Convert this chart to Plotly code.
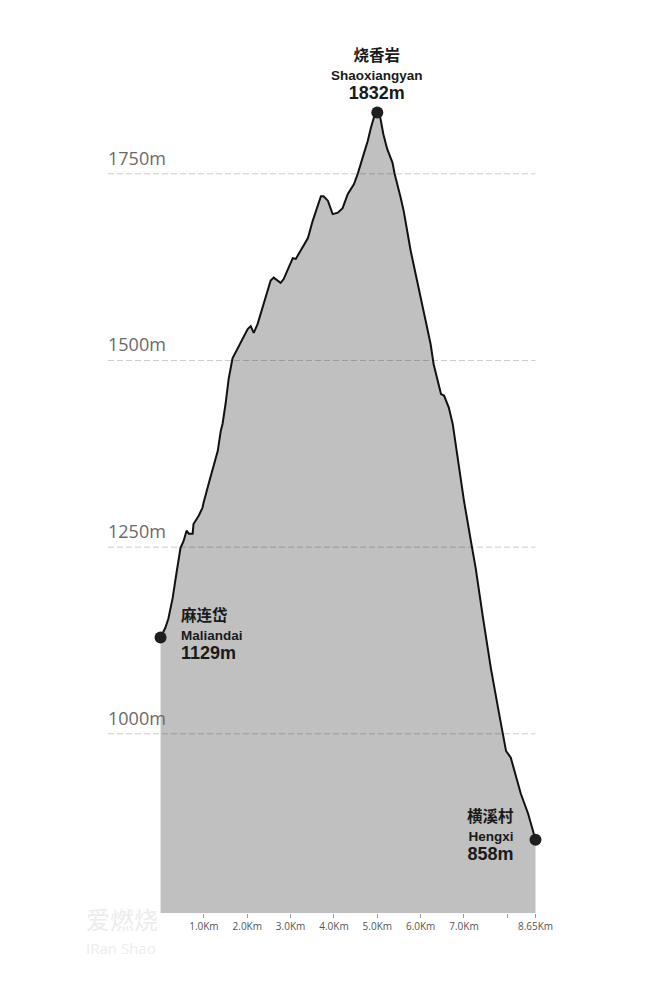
import plotly.graph_objects as go

# ---- data -------------------------------------------------------------
distance_km = [0.00, 0.11, 0.18, 0.28, 0.35, 0.46, 0.53, 0.60, 0.65, 0.74,
               0.76, 0.88, 0.97, 0.99, 1.11, 1.20, 1.22, 1.32, 1.39, 1.43,
               1.50, 1.57, 1.66, 1.78, 1.89, 2.01, 2.08, 2.15, 2.24, 2.31,
               2.42, 2.54, 2.61, 2.70, 2.77, 2.84, 2.96, 3.05, 3.12, 3.23,
               3.40, 3.51, 3.63, 3.70, 3.76, 3.86, 3.97, 4.09, 4.20, 4.32,
               4.46, 4.55, 4.69, 4.78, 4.85, 4.92, 5.00, 5.07, 5.14, 5.23,
               5.35, 5.40, 5.54, 5.61, 5.77, 5.93, 6.07, 6.23, 6.30, 6.42,
               6.47, 6.54, 6.65, 6.74, 6.81, 6.86, 7.00, 7.16, 7.27, 7.44,
               7.62, 7.81, 7.97, 8.08, 8.20, 8.31, 8.48, 8.65]
elevation_m = [1129, 1142, 1154, 1182, 1209, 1249, 1258, 1272, 1268, 1268,
               1281, 1292, 1303, 1309, 1335, 1355, 1356, 1379, 1406, 1415,
               1442, 1475, 1503, 1517, 1530, 1542, 1546, 1537, 1549, 1562,
               1584, 1607, 1611, 1607, 1604, 1609, 1624, 1637, 1636, 1647,
               1664, 1687, 1710, 1720, 1720, 1714, 1696, 1698, 1704, 1723,
               1736, 1750, 1777, 1794, 1811, 1825, 1832, 1825, 1803, 1783,
               1765, 1750, 1718, 1700, 1647, 1603, 1566, 1522, 1495, 1469,
               1455, 1453, 1437, 1415, 1388, 1370, 1312, 1258, 1222, 1155,
               1088, 1027, 977, 968, 941, 920, 893, 858]

base_elev = 760
grid_levels = [1000, 1250, 1500, 1750]
grid_labels = ["1000m", "1250m", "1500m", "1750m"]

x_tick_vals = [1, 2, 3, 4, 5, 6, 7, 8, 8.65]
x_tick_text = ["1.0Km", "2.0Km", "3.0Km", "4.0Km", "5.0Km", "6.0Km", "7.0Km", "", "8.65Km"]

point_km = [0.0, 5.0, 8.65]
point_elev = [1129, 1832, 858]
point_cn = ["麻连岱", "烧香岩", "横溪村"]
point_en = ["Maliandai", "Shaoxiangyan", "Hengxi"]

# ---- figure -----------------------------------------------------------
CJK = "Noto Sans CJK SC"
LAT = "Open Sans"
LAB = "Liberation Sans"

fig = go.Figure()

fig.add_trace(go.Scatter(
    x=distance_km, y=elevation_m, mode="lines",
    line=dict(color="#111111", width=2),
    fill="tozeroy", fillcolor="#c0c0c0",
    hoverinfo="skip", showlegend=False))

fig.add_trace(go.Scatter(
    x=point_km, y=point_elev, mode="markers",
    marker=dict(color="#1e1e1e", size=12),
    cliponaxis=False, hoverinfo="skip", showlegend=False))

x0_range = -1.2125
shapes = []
annotations = []
for lvl, lab in zip(grid_levels, grid_labels):
    shapes.append(dict(type="line", xref="x", yref="y", layer="above",
                       x0=x0_range, x1=8.65, y0=lvl, y1=lvl,
                       line=dict(color="rgba(0,0,0,0.2)", width=1, dash="6px,3px")))
    annotations.append(dict(text=lab, xref="paper", yref="y", x=0, y=lvl,
                            xanchor="left", yanchor="middle", yshift=16, xshift=-2,
                            showarrow=False,
                            font=dict(family=LAT, size=18, color="#6a6a6a")))

# point labels: (xshift, xanchor/align, yshift)
label_layout = [(18, "left", 4), (0, "center", 40), (-20, "right", 6)]
for km, ev, cn, en, (xs, xa, ys) in zip(point_km, point_elev, point_cn, point_en, label_layout):
    txt = ("<b><span style='font-size:15.5px;font-family:%s'>%s</span></b><br>"
           "<b><span style='font-size:13.5px'>%s</span></b><br>"
           "<b><span style='font-size:18px'>%dm</span></b>") % (CJK, cn, en, ev)
    annotations.append(dict(text=txt, x=km, y=ev, xref="x", yref="y",
                            xshift=xs, yshift=ys, xanchor=xa, yanchor="middle",
                            align=xa, showarrow=False,
                            font=dict(family=LAB + ", " + CJK, size=14.5, color="#1a1a1a")))

# faint watermark
annotations.append(dict(text="爱燃烧", xref="paper", yref="paper", x=-0.055, y=-0.006,
                        xanchor="left", yanchor="middle", showarrow=False,
                        font=dict(family=CJK, size=24, color="#ececec")))
annotations.append(dict(text="IRan Shao", xref="paper", yref="paper", x=-0.055, y=-0.040,
                        xanchor="left", yanchor="middle", showarrow=False,
                        font=dict(family=LAT, size=15, color="#ececec")))

fig.update_layout(
    width=660, height=981,
    margin=dict(l=108, r=118, t=40, b=68),
    paper_bgcolor="white", plot_bgcolor="white",
    shapes=shapes, annotations=annotations,
    showlegend=False,
    xaxis=dict(range=[x0_range, 8.8], showgrid=False, zeroline=False, showline=False,
               tickmode="array", tickvals=x_tick_vals, ticktext=x_tick_text,
               ticks="outside", ticklen=4, tickcolor="#999999", tickwidth=1,
               tickfont=dict(family=LAT, size=10, color="#555555")),
    yaxis=dict(range=[base_elev, 1929.2], showgrid=False, zeroline=False,
               showline=False, showticklabels=False, ticks=""),
)

fig.write_html("out.html", config={"displayModeBar": False},
               post_script="document.body.style.margin='0';document.body.style.padding='0';")
